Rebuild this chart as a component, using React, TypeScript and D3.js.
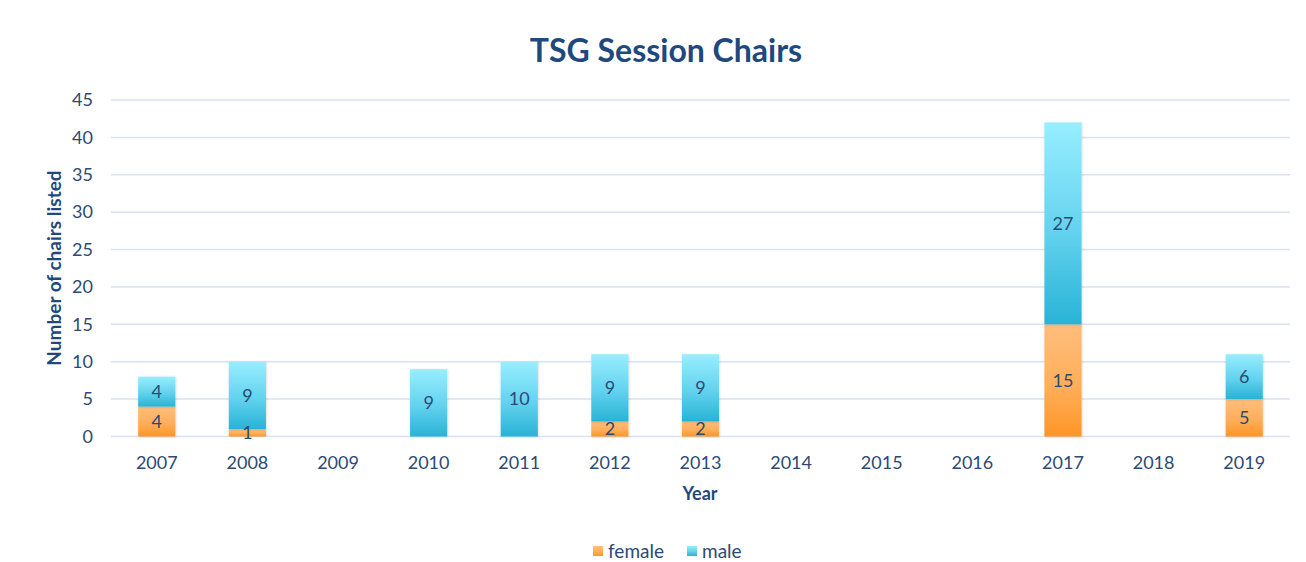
import React from 'react';
import { scaleBand, scaleLinear } from 'd3';

const years = ['2007', '2008', '2009', '2010', '2011', '2012', '2013', '2014', '2015', '2016', '2017', '2018', '2019'];
const female = [4, 1, 0, 0, 0, 2, 2, 0, 0, 0, 15, 0, 5];
const male = [4, 9, 0, 9, 10, 9, 9, 0, 0, 0, 27, 0, 6];
const yTicks = [0, 5, 10, 15, 20, 25, 30, 35, 40, 45];

const W = 1306;
const H = 562;
const left = 111;
const right = 1290;
const top = 100;
const bottom = 436.5;
const textColor = '#2c4a73';
const font = 'Lato, "Open Sans", sans-serif';

export default function App() {
  const x = scaleBand().domain(years).range([left, right]).paddingInner(0.59).paddingOuter(0.3);
  const y = scaleLinear().domain([0, 45]).range([bottom, top]);
  const bw = x.bandwidth();

  return (
    <svg width={W} height={H} style={{ position: 'absolute', left: 0, top: 0, background: '#fff' }}>
      <defs>
        <linearGradient id="gMale" x1="0" y1="0" x2="0" y2="1">
          <stop offset="0" stopColor="#98eeff" />
          <stop offset="0.55" stopColor="#62d2ee" />
          <stop offset="1" stopColor="#28b3d6" />
        </linearGradient>
        <linearGradient id="gFemale" x1="0" y1="0" x2="0" y2="1">
          <stop offset="0" stopColor="#ffbe7c" />
          <stop offset="0.55" stopColor="#ffae5a" />
          <stop offset="1" stopColor="#ff9626" />
        </linearGradient>
        <filter id="shadow" x="-20%" y="-5%" width="140%" height="110%">
          <feDropShadow dx="0.5" dy="0.5" stdDeviation="1" floodColor="#000" floodOpacity="0.18" />
        </filter>
      </defs>

      <text x={666} y={62} textAnchor="middle" fontFamily={font} fontWeight="bold" fontSize={32} fill="#1f497d">
        TSG Session Chairs
      </text>

      {yTicks.map(t => (
        <g key={t}>
          <line x1={left} x2={right} y1={y(t)} y2={y(t)} stroke="#d9e2f1" strokeWidth={1.5} />
          <text x={93} y={y(t)} dy="0.35em" textAnchor="end" fontFamily={font} fontSize={18} fill={textColor}>
            {t}
          </text>
        </g>
      ))}

      <text
        transform={`translate(61,268) rotate(-90)`}
        textAnchor="middle"
        fontFamily={font}
        fontWeight="bold"
        fontSize={19}
        fill="#1f497d"
      >
        Number of chairs listed
      </text>

      {years.map((yr, i) => {
        const bx = x(yr)!;
        const f = female[i];
        const m = male[i];
        return (
          <g key={yr}>
            {f > 0 && (
              <rect x={bx} y={y(f)} width={bw} height={y(0) - y(f)} fill="url(#gFemale)" filter="url(#shadow)" />
            )}
            {m > 0 && (
              <rect x={bx} y={y(f + m)} width={bw} height={y(f) - y(f + m)} fill="url(#gMale)" filter="url(#shadow)" />
            )}
            {f > 0 && (
              <text x={bx + bw / 2} y={(y(0) + y(f)) / 2} dy="0.35em" textAnchor="middle" fontFamily={font} fontSize={18} fill={textColor}>
                {f}
              </text>
            )}
            {m > 0 && (
              <text x={bx + bw / 2} y={(y(f) + y(f + m)) / 2} dy="0.35em" textAnchor="middle" fontFamily={font} fontSize={18} fill={textColor}>
                {m}
              </text>
            )}
            <text x={bx + bw / 2} y={463} dy="0.35em" textAnchor="middle" fontFamily={font} fontSize={18} fill={textColor}>
              {yr}
            </text>
          </g>
        );
      })}

      <text x={700} y={494} dy="0.35em" textAnchor="middle" fontFamily={font} fontWeight="bold" fontSize={18} fill="#1f497d">
        Year
      </text>

      <g fontFamily={font} fontSize={19} fill={textColor}>
        <rect x={593} y={546} width={10} height={10} fill="url(#gFemale)" />
        <text x={608} y={551} dy="0.35em">female</text>
        <rect x={687} y={546} width={10} height={10} fill="url(#gMale)" />
        <text x={702} y={551} dy="0.35em">male</text>
      </g>
    </svg>
  );
}
